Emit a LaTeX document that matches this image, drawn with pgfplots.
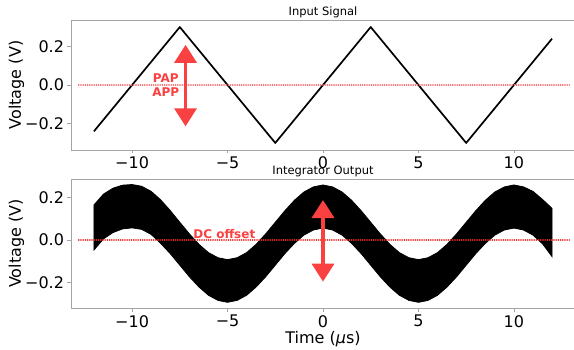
\documentclass[border=0pt]{standalone}
\usepackage{pgfplots}
\pgfplotsset{compat=1.18}
\usepackage{fontspec}
\setmainfont{DejaVu Sans}
\usetikzlibrary{arrows.meta}
\definecolor{annred}{RGB}{250,65,65}
\definecolor{dotred}{RGB}{240,40,40}
\definecolor{spine}{RGB}{165,165,165}
\pgfplotsset{
  myax/.style={
    scale only axis, width=504pt,
    xmin=-13.2, xmax=13.2,
    axis x line*=box, axis y line*=left,
    xtick pos=bottom, ytick pos=left,
    tick align=outside, major tick length=3.5pt,
    tick style={spine, line width=0.8pt},
    axis line style={spine, line width=0.8pt},
    xtick={-10,-5,0,5,10}, xticklabels={−10,−5,0,5,10},
    ytick={-0.2,0,0.2}, yticklabels={−0.2,0.0,0.2},
    ticklabel style={font=\fontsize{16}{18}\selectfont},
    label style={font=\fontsize{16}{18}\selectfont},
    ylabel style={at={(axis description cs:-0.108,0.5)}, anchor=center},
    title style={font=\fontsize{11.5}{13}\selectfont, at={(axis description cs:0.5,1)}, anchor=base, yshift=-2pt},
    clip=false,
  }
}
\begin{document}
\begin{tikzpicture}
\path[use as bounding box] (0pt,0pt) rectangle (574pt,350pt);
% ---------- top: input signal ----------
\begin{axis}[myax, at={(71pt,200pt)}, anchor=south west, height=130pt,
  ymin=-0.3365, ymax=0.3365, title={Input Signal}, ylabel={Voltage (V)}]
\addplot[black, line width=1.7pt, line join=round] coordinates {
(-12,-0.24) (-7.5,0.3) (-2.5,-0.3) (2.5,0.3) (7.5,-0.3) (12,0.24)};
\addplot[color=dotred!70, line width=1.3pt, line cap=round, dash pattern=on 0.3pt off 1.9pt] coordinates {(-12.8,0) (12.9,0)};
\draw[annred, line width=3.5pt, {Triangle[width=22pt,length=18pt]}-{Triangle[width=22pt,length=18pt]}]
  (axis cs:-7.2,-0.214) -- (axis cs:-7.2,0.208);
\node[annred, font=\bfseries\fontsize{12}{14}\selectfont, align=center, inner sep=0pt] at (axis cs:-8.24,0) {PAP\\APP};
\end{axis}
% ---------- bottom: integrator output ----------
\begin{axis}[myax, at={(71pt,41.7pt)}, anchor=south west, height=129.3pt,
  ymin=-0.32, ymax=0.286, title={Integrator Output}, ylabel={Voltage (V)},
  xlabel={Time ({\itshape μ}s)},
  xlabel style={at={(axis description cs:0.5,0)}, anchor=base, yshift=-35pt}]
\addplot[fill=black, draw=black, line width=0.8pt] coordinates {
(-12,0.164) (-11.5,0.215) (-11,0.243) (-10.5,0.257) (-10,0.260) (-9.5,0.252) (-9,0.228)
(-8.5,0.188) (-8,0.138) (-7.5,0.083) (-7,0.029) (-6.5,-0.020) (-6,-0.059) (-5.5,-0.083)
(-5,-0.092) (-4.5,-0.083) (-4,-0.059) (-3.5,-0.020) (-3,0.029) (-2.5,0.083) (-2,0.137)
(-1.5,0.186) (-1,0.225) (-0.5,0.249) (0,0.258) (0.5,0.249) (1,0.225) (1.5,0.186)
(2,0.137) (2.5,0.083) (3,0.029) (3.5,-0.020) (4,-0.059) (4.5,-0.083) (5,-0.092)
(5.5,-0.083) (6,-0.059) (6.5,-0.020) (7,0.029) (7.5,0.083) (8,0.137) (8.5,0.186)
(9,0.225) (9.5,0.249) (10,0.258) (10.5,0.249) (11,0.228) (11.5,0.190) (12,0.148)
(12,-0.078) (11.5,-0.018) (11,0.023) (10.5,0.047) (10,0.056) (9.5,0.047) (9,0.023)
(8.5,-0.016) (8,-0.064) (7.5,-0.118) (7,-0.172) (6.5,-0.220) (6,-0.259) (5.5,-0.283)
(5,-0.292) (4.5,-0.283) (4,-0.259) (3.5,-0.220) (3,-0.172) (2.5,-0.118) (2,-0.064)
(1.5,-0.016) (1,0.023) (0.5,0.047) (0,0.056) (-0.5,0.047) (-1,0.023) (-1.5,-0.016)
(-2,-0.064) (-2.5,-0.118) (-3,-0.172) (-3.5,-0.220) (-4,-0.259) (-4.5,-0.283) (-5,-0.292)
(-5.5,-0.283) (-6,-0.259) (-6.5,-0.220) (-7,-0.172) (-7.5,-0.118) (-8,-0.064) (-8.5,-0.016)
(-9,0.026) (-9.5,0.050) (-10,0.057) (-10.5,0.052) (-11,0.035) (-11.5,0.005) (-12,-0.047)
(-12,0.164)};
\addplot[color=dotred, line width=1.3pt, line cap=round, dash pattern=on 0.3pt off 1.9pt] coordinates {(-12.8,0) (12.9,0)};
\draw[annred, line width=3.5pt, {Triangle[width=22pt,length=18pt]}-{Triangle[width=22pt,length=18pt]}]
  (axis cs:0,-0.195) -- (axis cs:0,0.1875);
\node[annred, font=\bfseries\fontsize{12}{14}\selectfont, anchor=base, inner sep=0pt] at (axis cs:-5.17,0.005) {DC offset};
\end{axis}
\end{tikzpicture}
\end{document}
